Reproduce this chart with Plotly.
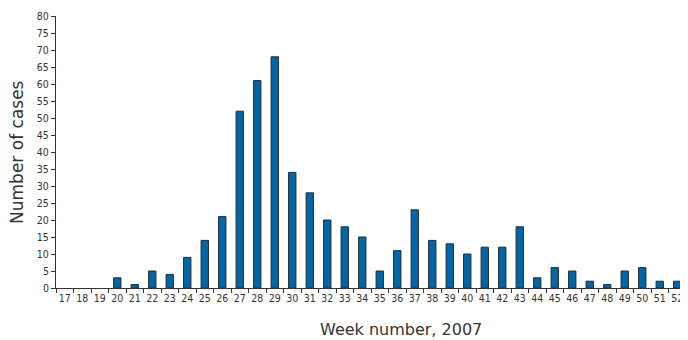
import plotly.graph_objects as go

weeks = [str(w) for w in range(17, 53)]
cases = [0, 0, 0, 3, 1, 5, 4, 9, 14, 21, 52, 61, 68, 34, 28, 20, 18, 15,
         5, 11, 23, 14, 13, 10, 12, 12, 18, 3, 6, 5, 2, 1, 5, 6, 2, 2]
y_ticks = list(range(0, 81, 5))
x_title = "Week number, 2007"
y_title = "Number of cases"

line_widths = [0 if v == 0 else 1 for v in cases]

fig = go.Figure(go.Bar(
    x=weeks, y=cases,
    marker=dict(color="#0066a8", line=dict(color="#2a2a2a", width=line_widths)),
))

TICK_FONT = "DejaVu Sans Condensed, sans-serif"
TITLE_FONT = "DejaVu Sans, sans-serif"
# page body has an 8px margin, so the figure is 8px smaller than the window
W, H = 680, 332
L, R, T, B = 48, 2, 8, 52
fig.update_layout(
    width=W, height=H,
    margin=dict(l=L, r=R, t=T, b=B),
    plot_bgcolor="white", paper_bgcolor="white",
    bargap=0.58,
    showlegend=False,
    font=dict(family=TICK_FONT, color="#333333"),
    annotations=[
        dict(text=x_title, xref="paper", yref="paper", x=0.548, y=-0.154,
             xanchor="center", yanchor="middle", showarrow=False,
             font=dict(family=TITLE_FONT, size=16, color="#333333")),
        dict(text=y_title, xref="paper", yref="paper", x=-0.062, y=0.5,
             xanchor="center", yanchor="middle", showarrow=False, textangle=-90,
             font=dict(family=TITLE_FONT, size=17, color="#333333")),
    ],
)
fig.update_xaxes(
    type="category", automargin=False,
    showline=True, linecolor="#333333", linewidth=1,
    ticks="outside", ticklen=4, tickcolor="#333333", tickson="boundaries",
    tickangle=0,
    tickfont=dict(family=TICK_FONT, size=10.5, color="#333333"),
    showgrid=False,
)
fig.update_yaxes(
    range=[0, 80], automargin=False,
    tickvals=y_ticks,
    showline=True, linecolor="#333333", linewidth=1,
    ticks="outside", ticklen=4, tickcolor="#333333",
    tickfont=dict(family=TICK_FONT, size=10.5, color="#333333"),
    showgrid=False, zeroline=False,
)

fig.write_html("out.html")
